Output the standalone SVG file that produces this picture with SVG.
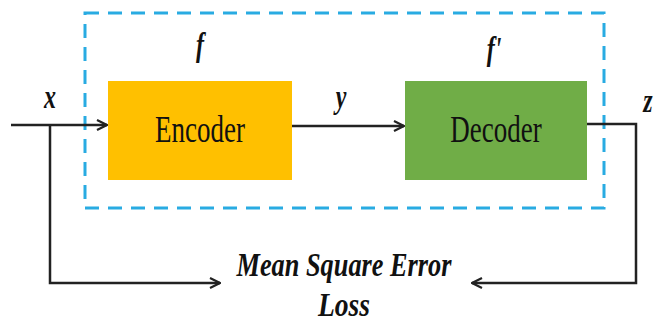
<svg xmlns="http://www.w3.org/2000/svg" width="661" height="325" viewBox="0 0 661 325">
<style>
.ln{fill:none;stroke:#222;stroke-width:2.5}
.lab{font-family:'Liberation Serif','Times New Roman','DejaVu Serif',serif;font-style:italic;font-weight:bold;fill:#111}
.box{font-family:'Liberation Serif','Times New Roman','DejaVu Serif',serif;fill:#111}
</style>
<defs>
<marker id="ah" viewBox="0 0 12 12" refX="11" refY="6" markerWidth="12" markerHeight="12" markerUnits="userSpaceOnUse" orient="auto">
<path d="M1,1 L11,6 L1,11" fill="none" stroke="#222" stroke-width="2.2"/>
</marker>
</defs>
<rect x="0" y="0" width="661" height="325" fill="#fff"/>
<rect id="frame" x="85" y="13" width="519" height="195" fill="none" stroke="#29ABE2" stroke-width="3" stroke-dasharray="14 9"/>
<g id="connectors">
<path class="ln" d="M11,125 H107" marker-end="url(#ah)"/>
<path class="ln" d="M292,126 H404" marker-end="url(#ah)"/>
<path class="ln" d="M50,125 V283 H220" marker-end="url(#ah)"/>
<path class="ln" d="M587,124 H636 V283 H472" marker-end="url(#ah)"/>
</g>
<g id="encoder">
<rect x="108" y="81" width="184" height="99" fill="#FFC000"/>
<text class="box" font-size="27" text-anchor="middle" transform="translate(200,142) scale(1,1.4)">Encoder</text>
</g>
<g id="decoder">
<rect x="405" y="81" width="182" height="99" fill="#70AD47"/>
<text class="box" font-size="27" text-anchor="middle" transform="translate(496,142) scale(1,1.4)">Decoder</text>
</g>
<g id="labels">
<text class="lab" font-size="24" text-anchor="middle" transform="translate(50,108) scale(1,1.4)">x</text>
<text class="lab" font-size="24" text-anchor="middle" transform="translate(200,56) scale(1,1.4)">f</text>
<text class="lab" font-size="24" text-anchor="middle" transform="translate(494,60) scale(1,1.4)">f'</text>
<text class="lab" font-size="24" text-anchor="middle" transform="translate(341,108) scale(1,1.4)">y</text>
<text class="lab" font-size="24" text-anchor="middle" transform="translate(648,112) scale(1,1.4)">z</text>
<text class="lab" font-size="24" text-anchor="middle" textLength="215" lengthAdjust="spacingAndGlyphs" transform="translate(344,276) scale(1,1.4)">Mean Square Error</text>
<text class="lab" font-size="24" text-anchor="middle" textLength="52" lengthAdjust="spacingAndGlyphs" transform="translate(344,316) scale(1,1.4)">Loss</text>
</g>
</svg>
